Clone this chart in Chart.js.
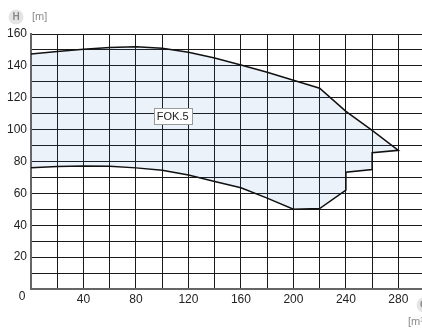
<!DOCTYPE html>
<html>
<head>
<meta charset="utf-8">
<script src="https://cdn.jsdelivr.net/npm/chart.js@4.4.1/dist/chart.umd.min.js"></script>
<style>
  html, body { margin: 0; padding: 0; background: #fff; }
  #wrap { position: relative; width: 422px; height: 331px; }
</style>
</head>
<body>
<div id="wrap"><canvas id="c" width="422" height="331"></canvas></div>
<script>
// Pump operating field FOK.5: head H [m] against flow Q [m³/h]
const upperQ = [0, 20, 40, 60, 80, 100, 120, 140, 160, 180, 200, 220, 240, 260, 280];
const upperH = [147.5, 149, 150.5, 151.5, 152, 151, 148.5, 145, 140.5, 136, 131, 126, 111.5, 99.5, 87];
const lowerQ = [280, 260, 260, 240, 240, 220, 200, 180, 160, 140, 120, 100, 80, 60, 40, 20, 0];
const lowerH = [87, 85.5, 75, 73.3, 62, 50.5, 50, 57, 63.5, 67.5, 71.5, 74.5, 76, 77, 77.2, 76.8, 76];

const fieldName = 'FOK.5';
const fieldLabelAt = { q: 108, h: 108.5 };
const xTickLabels = [40, 80, 120, 160, 200, 240, 280];
const yTickLabels = [20, 40, 60, 80, 100, 120, 140, 160];
const lastGridQ = 280;

const FONT = "'Liberation Sans Narrow', 'Liberation Sans', Arial, sans-serif";
const GRID = '#1a1a1a';

// Closed outline: upper curve left to right, then lower curve back
const outline = upperQ.map((q, i) => ({ x: q, y: upperH[i] }))
  .concat(lowerQ.map((q, i) => ({ x: q, y: lowerH[i] })));

const extras = {
  id: 'extras',
  afterDatasetsDraw(chart) {
    const { ctx, scales: { x, y } } = chart;
    // field name box
    const cx = x.getPixelForValue(fieldLabelAt.q);
    const cy = y.getPixelForValue(fieldLabelAt.h);
    ctx.save();
    ctx.font = '11px ' + FONT;
    const w = ctx.measureText(fieldName).width + 6;
    const h = 16;
    const bx = Math.round(cx - w / 2) + 0.5;
    const by = Math.round(cy - h / 2) + 0.5;
    ctx.fillStyle = '#ffffff';
    ctx.fillRect(bx, by, Math.round(w), h);
    ctx.strokeStyle = '#9a9a9a';
    ctx.lineWidth = 1;
    ctx.strokeRect(bx, by, Math.round(w), h);
    ctx.fillStyle = '#222';
    ctx.textAlign = 'center';
    ctx.textBaseline = 'middle';
    ctx.fillText(fieldName, cx, cy + 1);
    ctx.restore();
  },
  afterDraw(chart) {
    const { ctx, scales: { x, y } } = chart;
    ctx.save();
    // shared origin label
    ctx.font = '12px ' + FONT;
    ctx.fillStyle = '#222';
    ctx.textAlign = 'center';
    ctx.textBaseline = 'middle';
    ctx.fillText('0', x.getPixelForValue(0) - 9, y.getPixelForValue(0) + 8);

    // axis unit badges
    const badge = (bx, by, letter) => {
      ctx.beginPath();
      ctx.arc(bx, by, 7.5, 0, Math.PI * 2);
      ctx.fillStyle = '#e4e4e4';
      ctx.fill();
      ctx.font = 'bold 10px ' + FONT;
      ctx.fillStyle = '#8a8a8a';
      ctx.textAlign = 'center';
      ctx.textBaseline = 'middle';
      ctx.fillText(letter, bx, by + 0.5);
    };
    badge(16, 17, 'H');
    ctx.font = '11px ' + FONT;
    ctx.fillStyle = '#8a8a8a';
    ctx.textAlign = 'left';
    ctx.textBaseline = 'middle';
    ctx.fillText('[m]', 32, 16.5);

    badge(424, 305, 'Q');
    ctx.font = '11px ' + FONT;
    ctx.fillStyle = '#8a8a8a';
    ctx.textAlign = 'left';
    ctx.textBaseline = 'middle';
    ctx.fillText('[m³/h]', 408, 322);
    ctx.restore();
  }
};

new Chart(document.getElementById('c'), {
  type: 'scatter',
  data: {
    datasets: [{
      data: outline,
      showLine: true,
      fill: 'shape',
      tension: 0,
      borderColor: '#111',
      borderWidth: 1.5,
      backgroundColor: 'rgba(40,110,200,0.09)',
      pointRadius: 0,
      pointHoverRadius: 0
    }]
  },
  options: {
    responsive: false,
    animation: false,
    events: [],
    layout: { padding: { top: 34, right: 0, left: 0, bottom: 0 } },
    plugins: { legend: { display: false }, tooltip: { enabled: false } },
    scales: {
      x: {
        type: 'linear',
        min: 0,
        max: 298,
        afterFit(scale) { scale.height = 42; },
        border: { color: '#666', width: 2 },
        grid: {
          color: (c) => (c.tick && c.tick.value > lastGridQ) ? 'rgba(0,0,0,0)' : GRID,
          lineWidth: 1,
          drawTicks: false
        },
        ticks: {
          stepSize: 20,
          includeBounds: false,
          padding: 3,
          maxRotation: 0,
          autoSkip: false,
          color: '#222',
          font: { family: FONT, size: 12 },
          callback: (v) => xTickLabels.includes(v) ? String(v) : ''
        }
      },
      y: {
        type: 'linear',
        min: 0,
        max: 160,
        afterFit(scale) { scale.width = 31; },
        border: { color: '#666', width: 2 },
        grid: { color: GRID, lineWidth: 1, drawTicks: false },
        ticks: {
          stepSize: 10,
          padding: 4,
          autoSkip: false,
          color: '#222',
          font: { family: FONT, size: 12 },
          callback: (v) => yTickLabels.includes(v) ? String(v) : ''
        }
      }
    }
  },
  plugins: [extras]
});
</script>
</body>
</html>
